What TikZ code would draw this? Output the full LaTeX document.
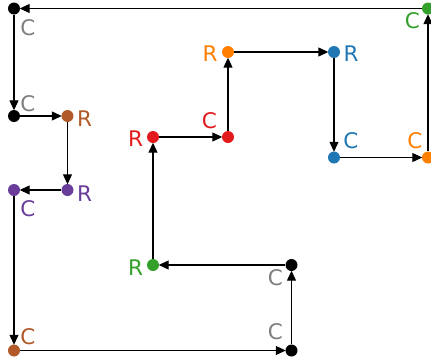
\documentclass[tikz,border=0pt]{standalone}
\usepackage{fontspec}
\setmainfont{DejaVu Sans}
\usetikzlibrary{arrows.meta}
\definecolor{pblue}{HTML}{1F78B4}
\definecolor{porange}{HTML}{FF7F00}
\definecolor{pgreen}{HTML}{33A02C}
\definecolor{pred}{HTML}{E31A1C}
\definecolor{ppurple}{HTML}{6A3D9A}
\definecolor{pbrown}{HTML}{B15928}
\definecolor{pgray}{HTML}{7F7F7F}
\tikzset{
  dot/.style={circle, fill=#1, draw=none, inner sep=0pt, minimum size=12bp},
  lab/.style={text=#1, inner sep=0pt, font=\fontsize{21.5bp}{25bp}\selectfont},
  arr/.style={draw=black, line width=1.1bp, -{Triangle[length=10bp,width=9bp]}, shorten >=-0.5bp},
}
\begin{document}
\begin{tikzpicture}[x=1bp,y=-1bp]
\useasboundingbox (0,0) rectangle (431,360);
% dots
\node[dot=black]    (A)  at (14,8.5) {};
\node[dot=pgreen]   (B)  at (428,8.5) {};
\node[dot=black]    (C1) at (14,116) {};
\node[dot=pbrown]   (D)  at (67.5,116) {};
\node[dot=ppurple]  (E)  at (67.5,190) {};
\node[dot=ppurple]  (F)  at (14,190) {};
\node[dot=pbrown]   (G)  at (14,350.5) {};
\node[dot=black]    (H)  at (291.5,350.5) {};
\node[dot=black]    (I)  at (291.5,265) {};
\node[dot=pgreen]   (J)  at (153,265) {};
\node[dot=pred]     (K)  at (153,137) {};
\node[dot=pred]     (L)  at (228,137) {};
\node[dot=porange]  (M)  at (228,52) {};
\node[dot=pblue]    (N)  at (334,52) {};
\node[dot=pblue]    (O)  at (334,157.5) {};
\node[dot=porange]  (P)  at (428,157.5) {};
% labels
\node[lab=pgray]   (lA)  at (28,27.5) {C};
\node[lab=pgreen]  (lB)  at (412.5,20.5) {C};
\node[lab=pgray]   (lC1) at (28,103.5) {C};
\node[lab=pbrown]  (lD)  at (84.5,119) {R};
\node[lab=ppurple] (lE)  at (84.5,194) {R};
\node[lab=ppurple] (lF)  at (28,209) {C};
\node[lab=pbrown]  (lG)  at (28,336.5) {C};
\node[lab=pgray]   (lH)  at (275.5,332) {C};
\node[lab=pgray]   (lI)  at (275.5,278) {C};
\node[lab=pgreen]  (lJ)  at (135.5,267.5) {R};
\node[lab=pred]    (lK)  at (135.5,139) {R};
\node[lab=pred]    (lL)  at (209.5,120.5) {C};
\node[lab=porange] (lM)  at (210,53.5) {R};
\node[lab=pblue]   (lN)  at (351,53.5) {R};
\node[lab=pblue]   (lO)  at (351,141) {C};
\node[lab=porange] (lP)  at (415,141) {C};
% connectors
\draw[arr] (B) -- (A);
\draw[arr] (A) -- (C1);
\draw[arr] (C1) -- (D);
\draw[arr] (D) -- (E);
\draw[arr] (E) -- (F);
\draw[arr] (F) -- (G);
\draw[arr] (G) -- (H);
\draw[arr] (H) -- (I);
\draw[arr] (I) -- (J);
\draw[arr] (J) -- (K);
\draw[arr] (K) -- (L);
\draw[arr] (L) -- (M);
\draw[arr] (M) -- (N);
\draw[arr] (N) -- (O);
\draw[arr] (O) -- (P);
\draw[arr] (P) -- (B);
\end{tikzpicture}
\end{document}
